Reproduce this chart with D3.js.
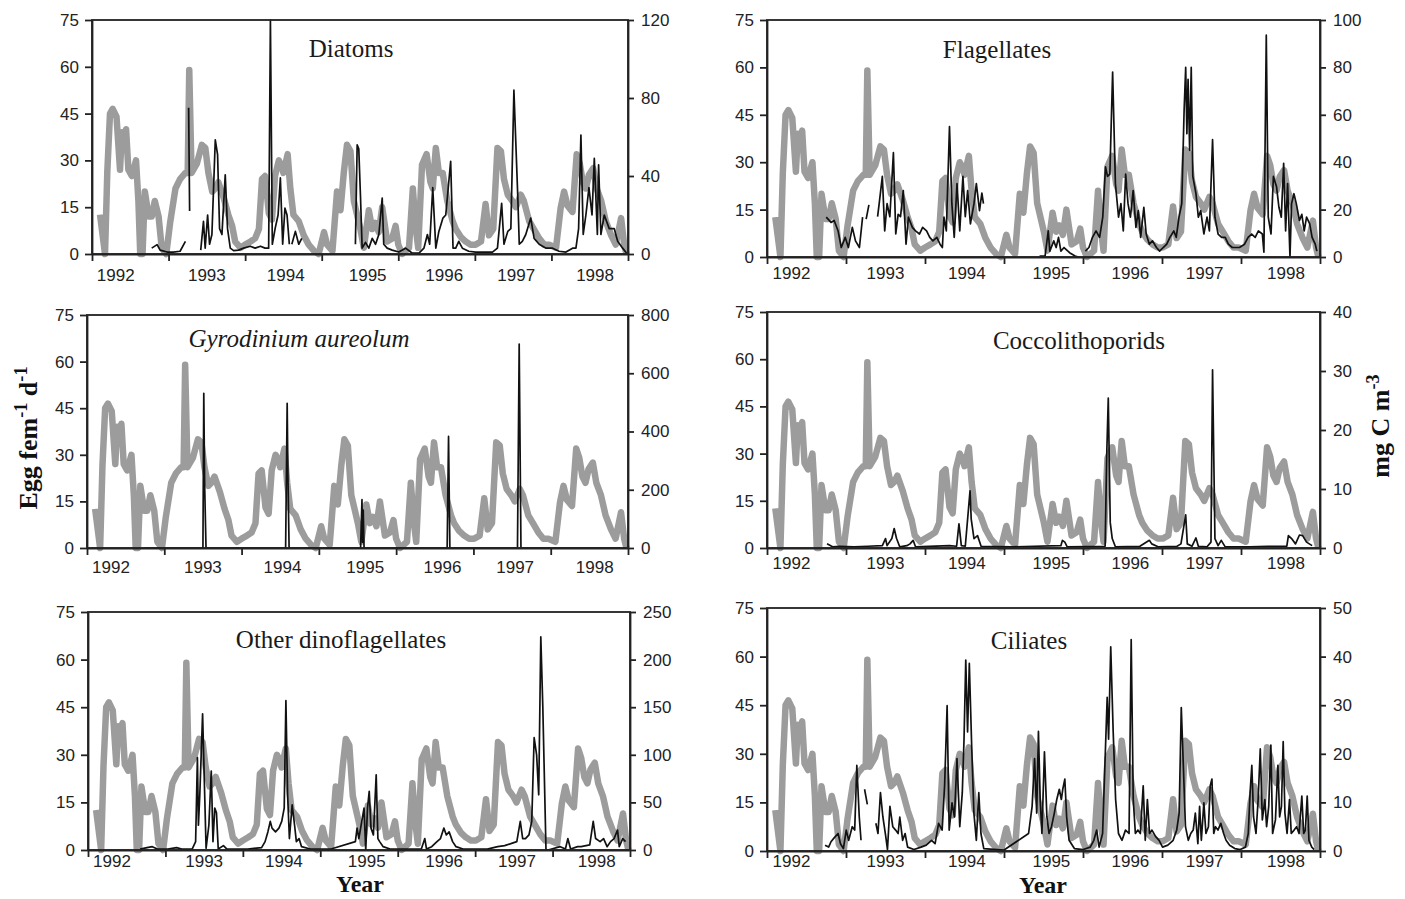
<!DOCTYPE html>
<html>
<head>
<meta charset="utf-8">
<script src="https://cdn.jsdelivr.net/npm/d3@7"></script>
<style>
  body { margin: 0; background: #fff; }
  svg { display: block; }
  .tick text { font-family: 'Liberation Sans', Arial, sans-serif; font-size: 17px; fill: #222; }
  .year-label { font-family: 'Liberation Sans', Arial, sans-serif; font-size: 17px; fill: #222; }
  .panel-title { font-family: 'Liberation Serif', 'Times New Roman', serif; font-size: 25px; fill: #1a1a1a; }
  .axis-name { font-family: 'Liberation Serif', 'Times New Roman', serif; font-weight: bold; font-size: 26px; fill: #111; }
  .x-name { font-size: 24px; }
</style>
</head>
<body>
<div id="chart"></div>
<script>
// Egg production (left axis, same series in every panel), [decimal year, eggs fem-1 d-1]
const eggProduction = [
  [1992.105, 12.6], [1992.17, 0], [1992.2, 26.5], [1992.235, 45], [1992.27, 46.5], [1992.32, 44], [1992.366, 27],
  [1992.39, 39], [1992.41, 36], [1992.445, 40], [1992.475, 27], [1992.52, 25], [1992.575, 30], [1992.606, 17],
  [1992.63, 0], [1992.66, 0], [1992.69, 20], [1992.74, 12], [1992.78, 12], [1992.82, 17], [1992.87, 12],
  [1992.91, 2], [1992.97, 0],
  [1993.02, 10], [1993.09, 21], [1993.15, 24], [1993.22, 26], [1993.25, 26], [1993.27, 59], [1993.3, 26],
  [1993.37, 29], [1993.435, 35], [1993.48, 34], [1993.52, 26], [1993.57, 20], [1993.61, 21], [1993.65, 23],
  [1993.72, 18], [1993.78, 12.6], [1993.83, 9], [1993.87, 4], [1993.94, 2],
  [1994.0, 3], [1994.07, 4], [1994.13, 5], [1994.18, 8], [1994.22, 24], [1994.26, 25], [1994.31, 13],
  [1994.35, 11], [1994.39, 25], [1994.44, 30], [1994.48, 28], [1994.5, 26], [1994.555, 32], [1994.59, 21],
  [1994.63, 12.6], [1994.7, 10.5], [1994.765, 6], [1994.83, 3], [1994.9, 1], [1994.96, 0],
  [1995.03, 7], [1995.07, 3], [1995.14, 1], [1995.2, 20], [1995.245, 14], [1995.29, 26.5], [1995.33, 35],
  [1995.375, 33], [1995.42, 17], [1995.505, 8], [1995.55, 2], [1995.615, 14], [1995.66, 8], [1995.7, 10],
  [1995.745, 7], [1995.79, 15], [1995.855, 4], [1995.92, 5], [1995.965, 9],
  [1996.0, 3], [1996.05, 0], [1996.14, 2], [1996.19, 21], [1996.23, 8], [1996.26, 2], [1996.31, 28.6],
  [1996.37, 32], [1996.42, 23], [1996.45, 21], [1996.49, 34], [1996.53, 26], [1996.58, 26], [1996.64, 17],
  [1996.71, 10.5], [1996.75, 8], [1996.815, 5.5], [1996.88, 4], [1996.945, 3],
  [1997.01, 3], [1997.08, 4], [1997.14, 16], [1997.185, 6], [1997.24, 8], [1997.295, 34], [1997.34, 33],
  [1997.38, 24], [1997.43, 19], [1997.49, 17], [1997.535, 15], [1997.6, 19], [1997.64, 17], [1997.71, 10.5],
  [1997.77, 8], [1997.84, 5], [1997.905, 3], [1997.97, 3],
  [1998.06, 2], [1998.12, 14.7], [1998.165, 20], [1998.21, 15.5], [1998.275, 13.5], [1998.33, 32], [1998.37, 29],
  [1998.41, 23], [1998.45, 21], [1998.49, 25.4], [1998.545, 27.5], [1998.59, 21], [1998.65, 17], [1998.71, 10.5],
  [1998.78, 6], [1998.84, 3], [1998.91, 11.5], [1998.95, 3], [1998.98, 0],
];

// Carbon biomass of each group (right axis, mg C m-3); null = gap in sampling
const diatoms = [
  [1992.78, 3], [1992.85, 4.8], [1992.89, 2], [1992.98, 1], [1993.06, 1], [1993.15, 1.4], [1993.22, 6.5], [1993.24, null],
  [1993.262, 75], [1993.275, 22], [1993.29, null],
  [1993.42, 2], [1993.456, 16.7], [1993.478, 3], [1993.51, 20], [1993.535, 5], [1993.566, 10], [1993.61, 58.5],
  [1993.64, 51], [1993.666, 13], [1993.697, 10], [1993.74, 40.6], [1993.77, 13], [1993.806, 3], [1993.85, 1.7],
  [1993.914, 2], [1993.98, 3], [1994.067, 4], [1994.13, 3], [1994.2, 4], [1994.26, 3], [1994.307, 3],
  [1994.33, 120], [1994.355, 5], [1994.394, 13.5], [1994.43, 20], [1994.46, 39], [1994.49, 5], [1994.52, 23.5],
  [1994.547, 20], [1994.577, 5], [1994.59, null],
  [1994.61, 5], [1994.656, 11.6], [1994.7, 5], [1994.74, 8], [1994.76, null],
  [1995.44, 5], [1995.463, 56], [1995.484, 54], [1995.506, 30], [1995.528, 3], [1995.572, 6], [1995.615, 3],
  [1995.66, 8], [1995.703, 5], [1995.746, 10], [1995.79, 28.7], [1995.81, 5], [1995.855, 3], [1995.92, 2],
  [1996.007, 1], [1996.095, 3], [1996.18, 0.5], [1996.27, 0.5], [1996.335, 3], [1996.38, 10], [1996.41, 5],
  [1996.45, 34], [1996.49, 3], [1996.53, 11.6], [1996.583, 18.4], [1996.62, 20], [1996.684, 47.5], [1996.715, 3],
  [1996.75, 3], [1996.79, 6.5], [1996.837, 3], [1996.92, 1.4], [1997.01, 1], [1997.1, 1], [1997.23, 1],
  [1997.295, 3], [1997.35, 26], [1997.38, 5], [1997.43, 11.6], [1997.47, 13], [1997.51, 84], [1997.56, 30],
  [1997.58, 5], [1997.62, 6.5], [1997.665, 10], [1997.73, 18.4], [1997.774, 8], [1997.84, 5], [1997.93, 3],
  [1998.015, 3], [1998.1, 1.4], [1998.19, 1], [1998.276, 3], [1998.32, 3], [1998.355, 13], [1998.385, 61],
  [1998.415, 10], [1998.45, 20], [1998.49, 34], [1998.53, 20], [1998.56, 49], [1998.6, 10], [1998.616, 45.7],
  [1998.646, 10], [1998.69, 20], [1998.755, 13], [1998.82, 13], [1998.865, 6.5], [1998.93, 3], [1998.98, 0.5],
];

const flagellates = [
  [1992.75, 16.8], [1992.81, 14.6], [1992.85, 15.4], [1992.9, 11], [1992.94, 4], [1992.99, 8.3], [1993.03, 4],
  [1993.08, 12.5], [1993.12, 6.8], [1993.17, 4], [1993.21, 16.8], [1993.23, null],
  [1993.255, 16], [1993.29, 22], [1993.31, null],
  [1993.4, 17], [1993.42, 22.5], [1993.46, 34], [1993.49, 11], [1993.52, 22.5], [1993.555, 17], [1993.6, 44],
  [1993.63, 9.7], [1993.66, 18], [1993.69, 17], [1993.725, 28], [1993.76, 5.4], [1993.79, 16.8], [1993.84, 12.5],
  [1993.88, 11], [1993.93, 9.7], [1993.97, 12.5], [1994.02, 11], [1994.06, 8.3], [1994.1, 6.8], [1994.15, 8.3],
  [1994.19, 5.4], [1994.22, 4], [1994.24, 16.8], [1994.27, 11], [1994.31, 55], [1994.34, 22.5], [1994.37, 8.3],
  [1994.405, 31], [1994.44, 11], [1994.48, 34], [1994.51, 17], [1994.54, 28], [1994.575, 14], [1994.62, 22.5],
  [1994.65, 31], [1994.69, 19.6], [1994.72, 27], [1994.74, 22.5], [1994.76, null],
  [1995.45, 0.4], [1995.52, 0.4], [1995.56, 11], [1995.58, 2.5], [1995.63, 6.8], [1995.66, 4], [1995.69, 8.3],
  [1995.72, 2.5], [1995.76, 4], [1995.83, 1.8], [1995.9, 0.4], [1995.94, 0], [1995.97, null],
  [1996.03, 2.5], [1996.075, 4], [1996.12, 8.3], [1996.165, 11], [1996.21, 8.3], [1996.25, 16.8], [1996.285, 38],
  [1996.31, 34], [1996.34, 35], [1996.375, 78], [1996.41, 31], [1996.45, 16.8], [1996.48, 22.5], [1996.51, 11],
  [1996.54, 35], [1996.57, 22.5], [1996.6, 16.8], [1996.635, 28], [1996.67, 12.5], [1996.7, 19.6], [1996.73, 8.3],
  [1996.77, 21], [1996.8, 9.7], [1996.84, 5.4], [1996.88, 6.8], [1996.93, 4], [1996.97, 2.5], [1997.015, 4],
  [1997.06, 5.4], [1997.1, 8.3], [1997.15, 11], [1997.18, 8.3], [1997.215, 16.8], [1997.25, 22.5], [1997.28, 62],
  [1997.3, 80], [1997.315, 52], [1997.33, 75], [1997.35, 45], [1997.37, 80], [1997.39, 34], [1997.43, 26.7],
  [1997.46, 16.8], [1997.49, 19.6], [1997.53, 9.7], [1997.57, 16.8], [1997.6, 11], [1997.64, 49.5], [1997.67, 16.8],
  [1997.71, 9.7], [1997.755, 8.3], [1997.8, 8.3], [1997.84, 5.4], [1997.89, 4], [1997.98, 4], [1998.045, 5.4],
  [1998.09, 8.3], [1998.135, 9.7], [1998.18, 8.3], [1998.22, 11], [1998.27, 9.7], [1998.29, 2], [1998.32, 93.6],
  [1998.345, 16.8], [1998.38, 9.7], [1998.41, 34], [1998.45, 29.6], [1998.48, 21], [1998.51, 16.8], [1998.54, 39.5],
  [1998.565, 11], [1998.59, 31], [1998.62, 0], [1998.64, 22.5], [1998.67, 26.7], [1998.7, 22.5], [1998.74, 15.4],
  [1998.77, 18], [1998.8, 11], [1998.83, 16.8], [1998.87, 14], [1998.9, 8.3], [1998.94, 5.4], [1998.96, 2.5],
];

const gyrodinium = [
  [1992.75, 0], [1993.47, 0], [1993.5, 0], [1993.511, 531], [1993.522, 220], [1993.54, 0],
  [1994.57, 0], [1994.59, 497], [1994.6, 246], [1994.615, 0],
  [1995.54, 0], [1995.558, 166], [1995.566, 20], [1995.574, 130], [1995.585, 0],
  [1996.66, 0], [1996.678, 383], [1996.695, 0],
  [1997.57, 0], [1997.592, 700], [1997.615, 0], [1998.9, 0],
];

const coccolithophorids = [
  [1992.76, 0.7], [1992.83, 0.2], [1992.92, 0.3], [1993.1, 0.2], [1993.28, 0.3], [1993.46, 0.4], [1993.5, 1.6],
  [1993.52, 0.4], [1993.58, 1.6], [1993.61, 3.3], [1993.64, 1.6], [1993.68, 0.2], [1993.77, 0.4], [1993.81, 0.7],
  [1993.85, 1.3], [1993.88, 0.2], [1994.31, 0.4], [1994.4, 0.3], [1994.43, 4.1], [1994.46, 0.4], [1994.51, 0.3],
  [1994.57, 9.7], [1994.585, 4.9], [1994.62, 1.6], [1994.665, 2.1], [1994.71, 0.3], [1995.11, 0.2], [1995.72, 0.4],
  [1995.74, 1.3], [1995.77, 1], [1995.8, 0.2], [1996.28, 0.3], [1996.3, 15.6], [1996.32, 25.4], [1996.345, 4.3],
  [1996.37, 1.6], [1996.41, 0.2], [1996.72, 0.3], [1996.79, 0.9], [1996.84, 1.3], [1996.87, 0.7], [1996.95, 0.2],
  [1997.19, 0.3], [1997.24, 0.7], [1997.3, 5.6], [1997.32, 0.7], [1997.38, 0.3], [1997.43, 1.7], [1997.46, 0.3],
  [1997.57, 0.2], [1997.62, 1], [1997.64, 30.2], [1997.67, 1.6], [1997.71, 0.4], [1997.75, 1.3], [1997.8, 0.2],
  [1998.11, 0.2], [1998.34, 0.3], [1998.58, 0.3], [1998.6, 2.1], [1998.64, 1.6], [1998.69, 0.7], [1998.74, 2.2],
  [1998.78, 2.1], [1998.83, 1], [1998.9, 0.4],
];

const otherDinoflagellates = [
  [1992.673, 1], [1992.762, 2.5], [1992.83, 3.5], [1992.897, 1], [1993.031, 1], [1993.143, 2.5], [1993.211, 1],
  [1993.345, 1], [1993.39, 8.8], [1993.413, 97], [1993.426, 26], [1993.444, 58], [1993.48, 143], [1993.507, 58],
  [1993.525, 1.8], [1993.561, 26], [1993.592, 83], [1993.614, 8.8], [1993.637, 44], [1993.659, 39], [1993.682, 1],
  [1993.749, 4.6], [1993.794, 1], [1994.063, 1], [1994.242, 2.5], [1994.287, 8.8], [1994.323, 19], [1994.354, 30],
  [1994.377, 23], [1994.422, 19], [1994.466, 23], [1994.502, 30], [1994.534, 44], [1994.556, 157], [1994.578, 58],
  [1994.601, 12], [1994.637, 47.5], [1994.668, 26], [1994.691, 8.8], [1994.726, 12], [1994.758, 3.5], [1994.87, 1],
  [1995.139, 1], [1995.453, 8.8], [1995.475, 23], [1995.498, 12], [1995.565, 44], [1995.587, 0], [1995.61, 44],
  [1995.632, 61.6], [1995.655, 23], [1995.686, 15.8], [1995.722, 79], [1995.744, 12], [1995.767, 8.8], [1995.812, 3.5],
  [1995.901, 1], [1996.305, 1], [1996.35, 12], [1996.372, 1], [1996.439, 3.5], [1996.507, 8.8], [1996.552, 12],
  [1996.596, 23], [1996.628, 15.8], [1996.664, 19], [1996.709, 8.8], [1996.753, 3.5], [1996.843, 1], [1997.157, 1],
  [1997.291, 3.5], [1997.381, 4.6], [1997.471, 7], [1997.538, 8.8], [1997.583, 30], [1997.614, 12], [1997.65, 12],
  [1997.695, 15.8], [1997.731, 30], [1997.762, 118], [1997.794, 100], [1997.821, 58], [1997.848, 224], [1997.874, 150],
  [1997.915, 0], [1997.942, 0], [1998.099, 3.5], [1998.166, 1], [1998.197, 12], [1998.233, 1], [1998.323, 3.5],
  [1998.368, 3.5], [1998.48, 5.3], [1998.525, 30], [1998.556, 12], [1998.614, 8.8], [1998.659, 12], [1998.704, 3.5],
  [1998.749, 8.8], [1998.794, 12], [1998.839, 21], [1998.861, 3.5], [1998.906, 12], [1998.942, 8.8],
];

const ciliates = [
  [1992.735, 1.2], [1992.78, 0.8], [1992.81, 1.9], [1992.855, 2.8], [1992.9, 3.6], [1992.93, 1.5], [1992.967, 0.5],
  [1993.003, 4.3], [1993.034, 2.2], [1993.079, 5], [1993.11, 4.3], [1993.137, 17.6], [1993.168, 7], [1993.19, 2.2],
  [1993.21, null], [1993.235, 12.7], [1993.27, 9.6], [1993.3, null],
  [1993.378, 5.7], [1993.405, 3.6], [1993.436, 12], [1993.467, 7], [1993.503, 3], [1993.525, 0.3], [1993.556, 9.2],
  [1993.592, 5], [1993.628, 4.3], [1993.66, 3.6], [1993.681, 7], [1993.717, 2.2], [1993.748, 3.6], [1993.78, 0.8],
  [1993.86, 0.3], [1993.95, 0.8], [1994.016, 1.2], [1994.083, 2.2], [1994.128, 1.5], [1994.172, 5.7], [1994.217, 4.3],
  [1994.248, 13.4], [1994.28, 29.9], [1994.306, 4.3], [1994.342, 9.9], [1994.373, 7], [1994.405, 19], [1994.44, 5],
  [1994.472, 12], [1994.494, 23], [1994.516, 39.3], [1994.539, 24.5], [1994.561, 38.6], [1994.592, 21], [1994.619, 7.8],
  [1994.65, 2.2], [1994.681, 12], [1994.708, 3.6], [1994.744, 0.5], [1995.0, 0.2], [1995.311, 3.6], [1995.356, 9.2],
  [1995.387, 19], [1995.414, 7.8], [1995.436, 24.6], [1995.458, 10.6], [1995.48, 3.6], [1995.512, 20.4], [1995.543, 7],
  [1995.57, 3.6], [1995.601, 5], [1995.637, 7.8], [1995.668, 10.6], [1995.7, 12.7], [1995.726, 10.6], [1995.744, 12.7],
  [1995.77, 14.8], [1995.793, 7], [1995.824, 2.2], [1995.891, 0.5], [1996.003, 0.3], [1996.092, 0.8], [1996.137, 2.2],
  [1996.173, 4.3], [1996.204, 0.8], [1996.248, 3.6], [1996.28, 19], [1996.306, 31.6], [1996.324, 23], [1996.351, 42],
  [1996.382, 24.6], [1996.413, 10.6], [1996.449, 3.6], [1996.494, 2.2], [1996.538, 4.3], [1996.583, 3.6], [1996.61, 43.5],
  [1996.636, 10.6], [1996.663, 3.6], [1996.695, 4.3], [1996.726, 3.6], [1996.762, 13.4], [1996.788, 2.2], [1996.815, 10.6],
  [1996.842, 3.6], [1996.873, 4.3], [1996.918, 3], [1996.963, 2.2], [1997.007, 0.8], [1997.074, 1.2], [1997.141, 2.2],
  [1997.186, 4.3], [1997.217, 7.8], [1997.244, 29.5], [1997.27, 17.6], [1997.297, 5], [1997.333, 2.2], [1997.364, 3.6],
  [1997.395, 4.3], [1997.422, 7.8], [1997.454, 1.5], [1997.476, 9.2], [1997.498, 2.2], [1997.53, 9.9], [1997.556, 3.6],
  [1997.588, 5], [1997.61, 13.4], [1997.632, 14.8], [1997.655, 3.6], [1997.677, 5], [1997.708, 4.3], [1997.744, 5.7],
  [1997.78, 3.6], [1997.811, 2.2], [1997.856, 1.2], [1997.922, 0.5], [1997.99, 0.3], [1998.056, 0.8], [1998.092, 3.6],
  [1998.115, 12], [1998.137, 17.6], [1998.159, 7], [1998.19, 3.6], [1998.217, 10.6], [1998.244, 21], [1998.27, 6.4],
  [1998.302, 10.6], [1998.324, 5], [1998.351, 9.2], [1998.378, 21.8], [1998.4, 3.6], [1998.436, 6.4], [1998.467, 17.6],
  [1998.489, 7], [1998.512, 9.2], [1998.534, 22.5], [1998.556, 7.8], [1998.583, 3.6], [1998.614, 10.6], [1998.636, 3.6],
  [1998.672, 4.3], [1998.704, 5], [1998.735, 3.6], [1998.77, 11.3], [1998.793, 3.6], [1998.815, 4.3], [1998.838, 11.3],
  [1998.86, 2.2], [1998.896, 0.8], [1998.927, 0.3],
];

const eggTicks = [0, 15, 30, 45, 60, 75];
const yearBounds = [1992, 1993, 1994, 1995, 1996, 1997, 1998, 1999];
const yearLabels = ['1992', '1993', '1994', '1995', '1996', '1997', '1998'];
const yearLabelAt = [1992.31, 1993.5, 1994.53, 1995.6, 1996.6, 1997.54, 1998.57];

const titles = ['Diatoms', 'Flagellates', 'Gyrodinium aureolum', 'Coccolithoporids', 'Other dinoflagellates', 'Ciliates'];
const series = [diatoms, flagellates, gyrodinium, coccolithophorids, otherDinoflagellates, ciliates];
const carbonMax = [120, 100, 800, 40, 250, 50];
const carbonStep = [40, 20, 200, 10, 50, 10];

const width = 1405;
const height = 899;

// plot boxes and title anchors, one per panel
const boxes = [
  { l: 92, r: 628, t: 20, b: 254, yearDy: 27, tx: 351, ty: 57 },
  { l: 767, r: 1320, t: 20, b: 257, yearDy: 22, tx: 997, ty: 58 },
  { l: 87, r: 628, t: 315, b: 548, yearDy: 25, tx: 299, ty: 347 },
  { l: 767, r: 1320, t: 312, b: 548, yearDy: 21, tx: 1079, ty: 349 },
  { l: 88, r: 630, t: 612, b: 850, yearDy: 17, tx: 341, ty: 648 },
  { l: 767, r: 1320, t: 608, b: 851, yearDy: 16, tx: 1029, ty: 649 },
];

const svg = d3
  .select('#chart')
  .append('svg')
  .attr('width', width)
  .attr('height', height)
  .attr('viewBox', [0, 0, width, height]);

boxes.forEach((box, i) => {
  const g = svg.append('g');

  const x = d3.scaleLinear().domain([1992, 1999]).range([box.l, box.r]);
  const yEgg = d3.scaleLinear().domain([0, 75]).range([box.b, box.t]);
  const yC = d3.scaleLinear().domain([0, carbonMax[i]]).range([box.b, box.t]);

  const eggLine = d3
    .line()
    .x((d) => x(d[0]))
    .y((d) => yEgg(d[1]));

  const carbonLine = d3
    .line()
    .defined((d) => d[1] !== null)
    .x((d) => x(d[0]))
    .y((d) => yC(d[1]));

  // grey egg production line
  g.append('path')
    .datum(eggProduction)
    .attr('d', eggLine)
    .attr('fill', 'none')
    .attr('stroke', '#9c9c9c')
    .attr('stroke-width', 6.5)
    .attr('stroke-linejoin', 'round');

  // black biomass line
  g.append('path')
    .datum(series[i])
    .attr('d', carbonLine)
    .attr('fill', 'none')
    .attr('stroke', '#111')
    .attr('stroke-width', 1.7)
    .attr('stroke-linejoin', 'round');

  // frame
  g.append('rect')
    .attr('x', box.l)
    .attr('y', box.t)
    .attr('width', box.r - box.l)
    .attr('height', box.b - box.t)
    .attr('fill', 'none')
    .attr('stroke', '#222')
    .attr('stroke-width', 1.8);

  // left axis
  g.append('g')
    .attr('transform', `translate(${box.l},0)`)
    .call(d3.axisLeft(yEgg).tickValues(eggTicks).tickSize(7).tickSizeOuter(0).tickPadding(6));

  // right axis
  g.append('g')
    .attr('transform', `translate(${box.r},0)`)
    .call(
      d3
        .axisRight(yC)
        .tickValues(d3.range(0, carbonMax[i] + 1, carbonStep[i]))
        .tickSize(6)
        .tickSizeOuter(0)
        .tickPadding(7),
    );

  // bottom axis: ticks at year boundaries
  g.append('g')
    .attr('transform', `translate(0,${box.b})`)
    .call(d3.axisBottom(x).tickValues(yearBounds).tickSize(7).tickSizeOuter(0).tickFormat(''));

  g.selectAll('.domain, .tick line').attr('stroke', '#222').attr('stroke-width', 1.8);

  g.selectAll('.year-label')
    .data(yearLabels)
    .join('text')
    .attr('class', 'year-label')
    .attr('x', (d, j) => x(yearLabelAt[j]))
    .attr('y', box.b + box.yearDy)
    .attr('text-anchor', 'middle')
    .text((d) => d);

  g.append('text')
    .attr('class', 'panel-title')
    .attr('x', box.tx)
    .attr('y', box.ty)
    .attr('text-anchor', 'middle')
    .style('font-style', i === 2 ? 'italic' : 'normal')
    .text(titles[i]);
});

// y-axis name, left
const yName = svg
  .append('text')
  .attr('class', 'axis-name')
  .attr('transform', 'translate(37, 438) rotate(-90)')
  .attr('text-anchor', 'middle');
yName.append('tspan').text('Egg fem');
yName.append('tspan').attr('baseline-shift', 'super').attr('font-size', '70%').text('-1');
yName.append('tspan').text(' d');
yName.append('tspan').attr('baseline-shift', 'super').attr('font-size', '70%').text('-1');

// y-axis name, right
const cName = svg
  .append('text')
  .attr('class', 'axis-name')
  .attr('transform', 'translate(1389, 426) rotate(-90)')
  .attr('text-anchor', 'middle');
cName.append('tspan').text('mg C m');
cName.append('tspan').attr('baseline-shift', 'super').attr('font-size', '70%').text('-3');

// x-axis names
svg.append('text').attr('class', 'axis-name x-name').attr('x', 360).attr('y', 892).attr('text-anchor', 'middle').text('Year');
svg.append('text').attr('class', 'axis-name x-name').attr('x', 1043).attr('y', 893).attr('text-anchor', 'middle').text('Year');
</script>
</body>
</html>
